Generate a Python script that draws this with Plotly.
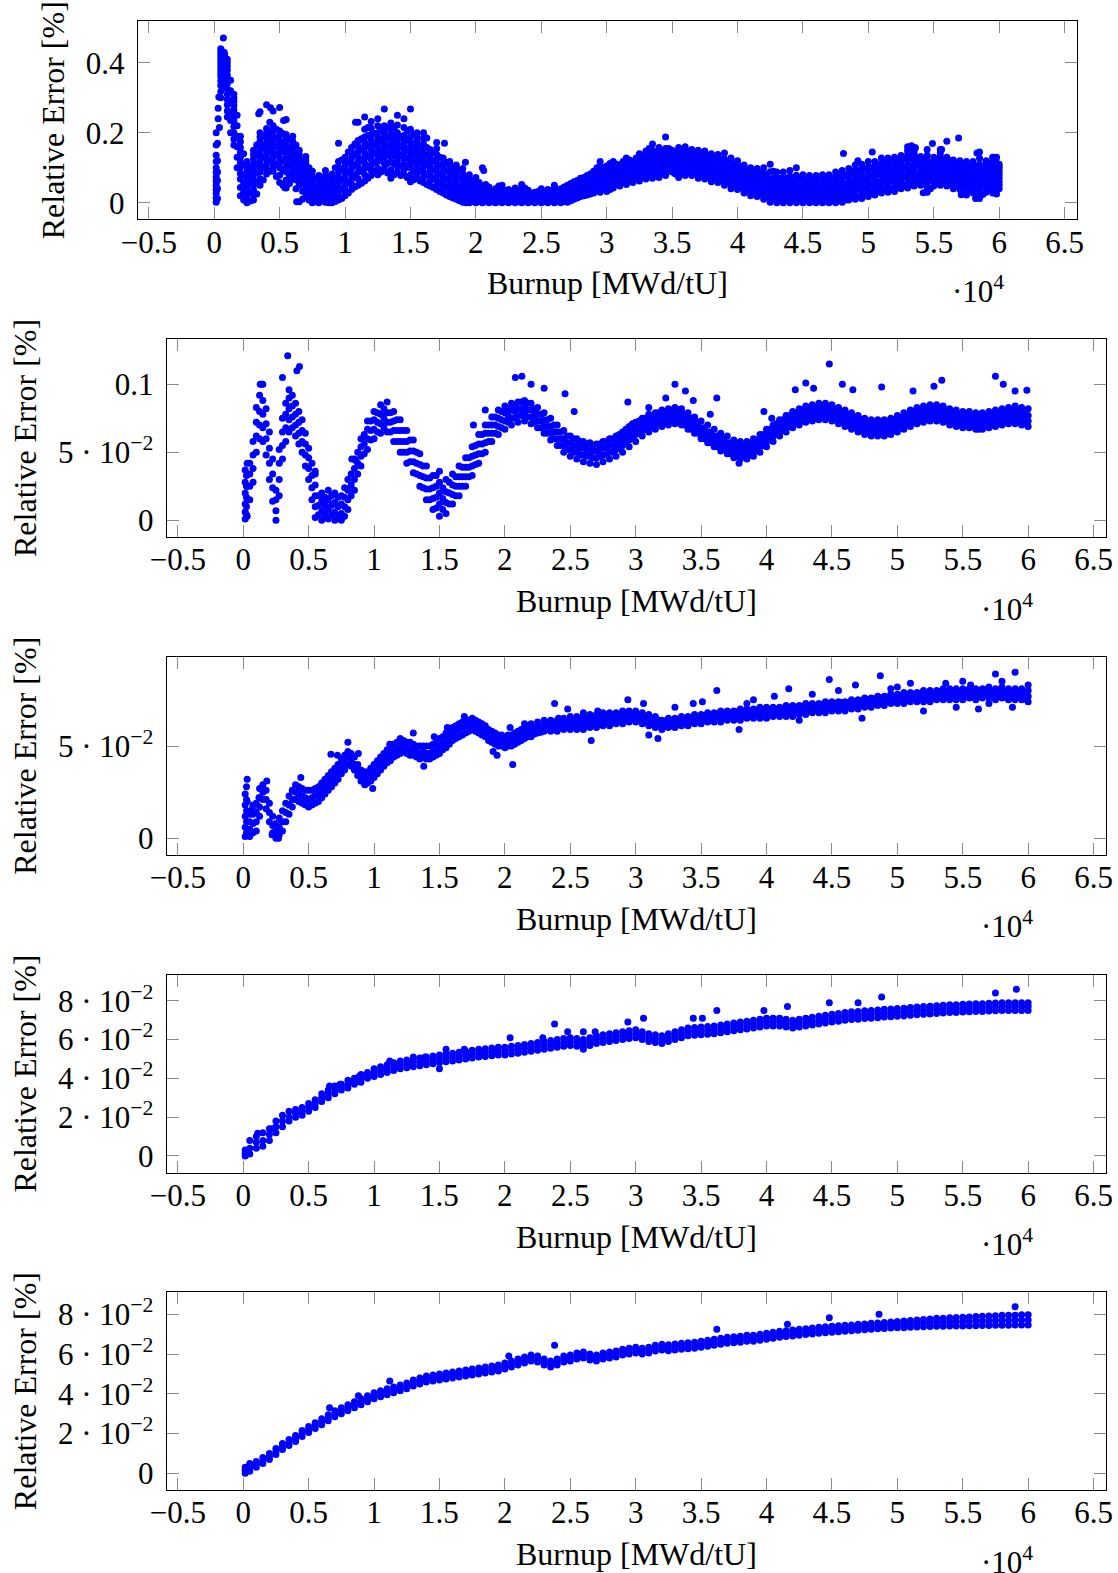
import plotly.graph_objects as go

# ---------------- data (burnup in MWd/tU, relative error in %) ----------------
burnup_steps = [150, 500, 1000, 1500, 2000, 2500, 3000, 3500, 4000, 4500,
                5000, 5500, 6000, 6500, 7000, 7500, 8000, 8500, 9000, 9500,
                10000, 10500, 11000, 11500, 12000, 12500, 13000, 13500, 14000, 14500,
                15000, 15500, 16000, 16500, 17000, 17500, 18000, 18500, 19000, 19500,
                20000, 20500, 21000, 21500, 22000, 22500, 23000, 23500, 24000, 24500,
                25000, 25500, 26000, 26500, 27000, 27500, 28000, 28500, 29000, 29500,
                30000, 30500, 31000, 31500, 32000, 32500, 33000, 33500, 34000, 34500,
                35000, 35500, 36000, 36500, 37000, 37500, 38000, 38500, 39000, 39500,
                40000, 40500, 41000, 41500, 42000, 42500, 43000, 43500, 44000, 44500,
                45000, 45500, 46000, 46500, 47000, 47500, 48000, 48500, 49000, 49500,
                50000, 50500, 51000, 51500, 52000, 52500, 53000, 53500, 54000, 54500,
                55000, 55500, 56000, 56500, 57000, 57500, 58000, 58500, 59000, 59500,
                60000]
burnup_half_steps = [250, 750, 1250, 1750, 2250, 2750, 3250, 3750, 4250, 4750,
                     5250, 5750, 6250, 6750, 7250, 7750, 8250, 8750, 9250, 9750,
                     10250, 10750, 11250, 11750, 12250, 12750, 13250, 13750, 14250, 14750,
                     15250, 15750, 16250, 16750, 17250, 17750, 18250, 18750, 19250, 19750,
                     20250, 20750, 21250, 21750, 22250, 22750, 23250, 23750, 24250, 24750,
                     25250, 25750, 26250, 26750, 27250, 27750, 28250, 28750, 29250, 29750,
                     30250, 30750, 31250, 31750, 32250, 32750, 33250, 33750, 34250, 34750,
                     35250, 35750, 36250, 36750, 37250, 37750, 38250, 38750, 39250, 39750,
                     40250, 40750, 41250, 41750, 42250, 42750, 43250, 43750, 44250, 44750,
                     45250, 45750, 46250, 46750, 47250, 47750, 48250, 48750, 49250, 49750,
                     50250, 50750, 51250, 51750, 52250, 52750, 53250, 53750, 54250, 54750,
                     55250, 55750, 56250, 56750, 57250, 57750, 58250, 58750, 59250, 59750]

case1_err = [
    [.002, .027, .05, .074, .1, .136, .2], [.3, .335, .36, .38, .40, .42, .44],
    [.245, .28, .31, .34, .365, .39, .41], [.165, .2, .235, .265, .29, .31],
    [.02, .068, .1, .13, .158, .19], [.0, .018, .042, .065, .09, .118],
    [.008, .038, .066, .095, .125, .15], [.05, .088, .118, .148, .175, .2, .26],
    [.082, .11, .138, .16, .185, .212, .28], [.09, .118, .146, .168, .192, .22, .262],
    [.058, .1, .128, .155, .178, .205, .272], [.042, .088, .116, .142, .168, .195, .238],
    [.068, .092, .118, .14, .163, .19], [.003, .05, .078, .1, .124, .15],
    [.018, .042, .066, .088, .11, .132], [.0, .02, .04, .062, .09],
    [.0, .012, .032, .052, .078], [.002, .022, .043, .064, .092],
    [.0, .014, .034, .055, .082], [.008, .032, .058, .086, .118, .17],
    [.02, .048, .075, .105, .13], [.038, .068, .098, .128, .158],
    [.05, .088, .118, .148, .178, .23], [.062, .098, .128, .158, .188, .245],
    [.078, .108, .138, .165, .195, .232], [.08, .118, .145, .172, .2, .24],
    [.098, .128, .152, .178, .202, .268], [.07, .118, .148, .172, .198, .228],
    [.088, .12, .148, .178, .2, .25], [.08, .11, .14, .168, .192, .24],
    [.06, .1, .13, .158, .188, .268], [.07, .098, .128, .152, .178, .2],
    [.058, .088, .118, .142, .168, .2], [.048, .078, .102, .128, .152],
    [.038, .062, .088, .112, .138, .172], [.028, .05, .072, .098, .128],
    [.018, .04, .062, .088, .118], [.01, .03, .052, .078, .108],
    [.002, .022, .042, .068, .098], [.0, .018, .038, .058, .08],
    [.0, .015, .032, .052, .072], [.0, .012, .028, .048, .1],
    [.0, .01, .026, .045], [.0, .008, .022, .04],
    [.0, .012, .028, .05], [.0, .009, .022, .038],
    [.0, .01, .024, .042], [.0, .012, .03, .052],
    [.0, .008, .02, .036], [.0, .01, .018, .03],
    [.0, .012, .024, .04], [.0, .01, .022, .038],
    [.0, .014, .03, .05], [.0, .01, .022, .04],
    [.002, .018, .032, .05], [.01, .026, .042, .06],
    [.018, .034, .05, .07], [.022, .04, .058, .078],
    [.028, .048, .068, .09], [.03, .05, .07, .092, .118],
    [.032, .052, .072, .092, .105], [.042, .062, .082, .1, .118],
    [.048, .068, .088, .108], [.052, .072, .092, .112, .128],
    [.058, .078, .098, .118], [.062, .082, .102, .122, .14],
    [.068, .088, .108, .128, .148], [.07, .092, .112, .132, .168],
    [.072, .098, .118, .138, .158], [.078, .1, .12, .142, .188],
    [.088, .108, .128, .15], [.072, .098, .118, .138, .158],
    [.078, .1, .12, .14, .16], [.078, .098, .118, .138, .152],
    [.07, .09, .11, .13, .15], [.068, .088, .108, .128, .148],
    [.06, .08, .1, .12, .14], [.058, .078, .098, .118, .138],
    [.05, .07, .09, .11, .142], [.04, .06, .08, .1, .128],
    [.038, .058, .078, .098, .12], [.028, .048, .068, .088, .108],
    [.02, .04, .06, .08, .1], [.018, .038, .058, .078, .098],
    [.01, .03, .05, .07, .1], [.002, .028, .048, .068, .11],
    [.0, .02, .04, .06, .088], [.0, .018, .038, .058, .088],
    [.0, .02, .04, .06, .092], [.0, .018, .038, .058, .1],
    [.0, .012, .03, .05, .08], [.0, .018, .038, .058, .078],
    [.0, .01, .03, .05, .078], [.0, .016, .036, .056, .08],
    [.0, .018, .038, .058, .08], [.0, .02, .04, .06, .088],
    [.002, .022, .042, .068, .092], [.008, .028, .048, .07, .098],
    [.01, .032, .052, .078, .108], [.012, .036, .058, .08, .11],
    [.018, .04, .062, .088, .118], [.022, .046, .068, .09, .118],
    [.028, .05, .078, .1, .128], [.03, .056, .078, .1, .128],
    [.032, .058, .08, .105, .13], [.04, .062, .085, .108, .135],
    [.042, .068, .09, .11, .138, .16], [.048, .07, .092, .118, .14, .158],
    [.05, .072, .098, .12, .132], [.03, .058, .08, .1, .12, .152],
    [.048, .07, .09, .11, .13], [.05, .072, .092, .112, .132, .152],
    [.048, .07, .09, .11, .13], [.04, .062, .082, .102, .122],
    [.038, .06, .08, .1, .12], [.022, .05, .07, .09, .118],
    [.028, .05, .072, .092, .118], [.012, .04, .062, .088, .11, .145],
    [.03, .052, .078, .1, .12], [.028, .05, .072, .092, .112, .13],
    [.04, .06, .08, .098, .11],
]
case1_err_fill = [
    [.014, .038, .062, .087, .118, .165], [.318, .348, .37, .39, .41, .43],
    [.262, .295, .325, .352, .378, .4], [.182, .218, .25, .278, .3],
    [.044, .084, .115, .144, .174], [.009, .03, .054, .078, .104],
    [.023, .052, .08, .11, .138], [.069, .103, .133, .162, .188],
    [.096, .124, .149, .172, .198], [.104, .132, .157, .18, .206],
    [.079, .114, .142, .166, .192], [.065, .102, .129, .155, .182],
    [.08, .105, .129, .152, .176], [.064, .089, .112, .137],
    [.03, .054, .077, .099, .121], [.01, .03, .051, .076],
    [.006, .022, .042, .065], [.012, .032, .053, .078],
    [.007, .024, .044, .068], [.02, .045, .072, .102],
    [.034, .062, .09, .118], [.053, .083, .113, .143],
    [.069, .103, .133, .163], [.08, .113, .143, .173, .21],
    [.093, .123, .152, .18, .213], [.099, .132, .158, .186, .22],
    [.113, .14, .165, .19, .22], [.094, .133, .16, .185, .213],
    [.104, .134, .163, .189, .222], [.095, .125, .154, .18, .215],
    [.08, .115, .144, .173, .21], [.084, .113, .14, .165, .189],
    [.073, .103, .13, .155, .184], [.063, .09, .115, .14],
    [.05, .075, .1, .125, .155], [.039, .061, .085, .113],
    [.029, .051, .075, .103], [.02, .041, .065, .093],
    [.012, .032, .055, .083], [.009, .028, .048, .069],
    [.007, .024, .042, .062], [.006, .02, .038],
    [.005, .018, .035], [.004, .015, .031],
    [.006, .02, .039], [.005, .015, .03],
    [.005, .017, .033], [.006, .021, .041],
    [.004, .014, .028], [.005, .014, .024],
    [.006, .018, .032], [.005, .016, .03],
    [.007, .022, .04], [.005, .016, .031],
    [.01, .025, .041], [.018, .034, .051],
    [.026, .042, .06], [.031, .049, .068],
    [.038, .058, .079], [.04, .06, .081, .105],
    [.042, .062, .082, .098], [.052, .072, .091, .109],
    [.058, .078, .098], [.062, .082, .102, .12],
    [.068, .088, .108], [.072, .092, .112, .131],
    [.078, .098, .118, .138], [.081, .102, .122, .15],
    [.085, .108, .128, .148], [.089, .11, .131, .155],
    [.098, .118, .139], [.085, .108, .128, .148],
    [.089, .11, .13, .15], [.088, .108, .128, .145],
    [.08, .1, .12, .14], [.078, .098, .118, .138],
    [.07, .09, .11, .13], [.068, .088, .108, .128],
    [.06, .08, .1, .125], [.05, .07, .09, .114],
    [.048, .068, .088, .109], [.038, .058, .078, .098],
    [.03, .05, .07, .09], [.028, .048, .068, .088],
    [.02, .04, .06, .085], [.015, .038, .058, .089],
    [.01, .03, .05, .074], [.009, .028, .048, .073],
    [.01, .03, .05, .076], [.009, .028, .048, .079],
    [.006, .021, .04, .065], [.009, .028, .048, .068],
    [.005, .02, .04, .064], [.008, .026, .046, .068],
    [.009, .028, .048, .069], [.01, .03, .05, .074],
    [.012, .032, .055, .08], [.018, .038, .059, .084],
    [.021, .042, .065, .093], [.024, .047, .069, .095],
    [.029, .051, .075, .103], [.034, .057, .079, .104],
    [.039, .064, .089, .114], [.043, .067, .089, .114],
    [.045, .069, .092, .118], [.051, .074, .096, .122],
    [.055, .079, .1, .124, .149], [.059, .081, .105, .129, .149],
    [.061, .085, .109, .126], [.044, .069, .09, .11, .136],
    [.059, .08, .1, .12], [.061, .082, .102, .122, .142],
    [.059, .08, .1, .12], [.051, .072, .092, .112],
    [.049, .07, .09, .11], [.036, .06, .08, .104],
    [.039, .061, .082, .105], [.026, .051, .075, .099, .127],
    [.041, .065, .089, .11], [.039, .061, .082, .102, .121],
    [.05, .07, .089, .104],
]
case1_err_half = [
    [.012, .04, .064, .088, .12, .17], [.33, .35, .37, .39, .41, .43],
    [.2, .235, .26, .29, .32, .35], [.1, .13, .16, .19, .22, .25],
    [.008, .03, .055, .08, .11, .14], [.005, .03, .055, .08, .105],
    [.025, .055, .085, .11, .138, .165], [.065, .1, .13, .16, .19],
    [.09, .12, .15, .175, .2, .23], [.075, .11, .138, .162, .185, .21],
    [.05, .092, .12, .148, .172, .198], [.055, .08, .105, .13, .155, .18],
    [.04, .065, .09, .112, .136, .165], [.01, .033, .056, .078, .1, .12],
    [.008, .03, .052, .076, .1], [.004, .025, .046, .068],
    [.006, .026, .045, .068], [.0, .012, .033, .053, .075],
    [.004, .022, .044, .07, .1], [.012, .04, .066, .095, .122],
    [.028, .058, .088, .116, .145], [.045, .078, .108, .138, .168],
    [.056, .092, .123, .153, .183], [.07, .104, .133, .162, .192, .215],
    [.09, .115, .142, .168, .198], [.088, .122, .148, .175, .21],
    [.085, .112, .138, .162, .188, .215], [.08, .11, .135, .162, .188, .215],
    [.078, .105, .135, .162, .19], [.072, .102, .128, .155, .182, .205],
    [.066, .09, .115, .142, .168, .195], [.062, .09, .115, .14, .165],
    [.052, .08, .108, .135, .158, .185], [.044, .07, .095, .12, .145],
    [.032, .056, .08, .105, .13], [.022, .045, .068, .092, .115],
    [.014, .035, .056, .08, .104], [.006, .026, .046, .07, .094],
    [.0, .014, .03, .05, .072], [.004, .022, .042, .064],
    [.004, .02, .038, .058], [.005, .018, .034, .052],
    [.003, .016, .032], [.003, .015, .03, .048],
    [.004, .018, .035], [.004, .016, .03],
    [.004, .018, .034], [.004, .016, .028, .042],
    [.004, .014, .027], [.005, .017, .032],
    [.004, .016, .03], [.005, .018, .035],
    [.004, .018, .038], [.004, .016, .03, .045],
    [.006, .022, .038, .055], [.014, .03, .046, .064],
    [.02, .036, .054, .072], [.025, .044, .062, .082],
    [.038, .058, .078, .1], [.04, .06, .08, .1],
    [.038, .058, .078, .096, .112], [.052, .072, .092, .11],
    [.058, .078, .098, .118], [.062, .082, .102, .122],
    [.068, .088, .108, .128], [.072, .092, .112, .132],
    [.078, .098, .118, .138, .155], [.082, .104, .124, .144],
    [.085, .106, .126, .146], [.095, .115, .135, .155],
    [.082, .103, .123, .143], [.088, .108, .128, .148],
    [.088, .108, .128, .145], [.083, .103, .123, .143],
    [.078, .098, .118, .138], [.073, .093, .113, .133],
    [.068, .088, .108, .128], [.064, .084, .104, .124],
    [.058, .078, .098, .118], [.048, .068, .088, .108],
    [.044, .064, .084, .104], [.035, .055, .075, .095],
    [.03, .05, .07, .09], [.025, .045, .065, .085],
    [.018, .038, .058, .08], [.01, .03, .05, .07, .09],
    [.008, .028, .048, .07], [.008, .028, .048, .07],
    [.008, .028, .048, .068], [.006, .025, .045, .068],
    [.006, .024, .044, .064], [.004, .024, .044, .066],
    [.005, .022, .042, .065], [.005, .026, .046, .068],
    [.006, .028, .048, .07], [.008, .03, .05, .072],
    [.008, .03, .052, .078], [.016, .038, .06, .085],
    [.018, .042, .066, .092], [.02, .046, .07, .096],
    [.028, .052, .076, .1], [.032, .058, .082, .106],
    [.038, .064, .088, .114], [.04, .066, .09, .116],
    [.045, .07, .094, .12], [.05, .075, .1, .124],
    [.055, .08, .104, .128], [.058, .082, .108, .128],
    [.06, .085, .11, .124], [.04, .068, .092, .115],
    [.058, .08, .1, .12], [.058, .08, .1, .122],
    [.056, .08, .1, .12], [.05, .072, .092, .112],
    [.046, .068, .09, .11], [.038, .06, .08, .104],
    [.038, .062, .082, .104], [.024, .05, .075, .098],
    [.04, .062, .088, .108], [.038, .062, .082, .102, .122],
]
case1_extra_burnup = [300, 300, 350, 400, 700, 650, 800, 3400, 4300, 5300, 5400, 6300,
                      10800, 17600, 19200, 20600, 48100, 50300, 49200, 53300, 53600,
                      54900, 55600, 56000, 56900, 58300, 59800, 59800, 58200, 57100, 54200]
case1_extra_err = [.24, .27, .302, .215, .47, .43, .425, .254, .271, .235, .043, .003,
                   .23, .17, .116, .092, .141, .145, .12, .163, .157,
                   .169, .152, .176, .185, .142, .13, .025, .012, .023, .029]

case2_err = [
    [.001, .006, .012, .02, .028, .037], [.015, .025, .034, .042],
    [.05, .062, .072, .083], [.058, .068, .078, .088, .1],
    [.03, .042, .053, .065], [.0, .007, .015, .022],
    [.045, .055, .065, .075], [.065, .074, .082, .09, .096],
    [.062, .07, .078, .086], [.05, .058, .066, .074],
    [.03, .038, .046, .053], [.002, .01, .018, .026, .036],
    [.0, .007, .014, .02], [.001, .008, .015, .022],
    [.0, .006, .013, .02], [.0, .005, .012, .018],
    [.008, .015, .022, .03], [.022, .03, .038, .045],
    [.04, .047, .054, .06], [.052, .06, .067, .073],
    [.06, .067, .074, .08], [.064, .071, .078, .085],
    [.065, .072, .079, .087], [.058, .066, .073, .08],
    [.05, .058, .066, .074], [.042, .05, .058, .066],
    [.035, .043, .051, .059], [.025, .033, .041, .049],
    [.015, .023, .031, .04], [.008, .016, .024, .033],
    [.003, .012, .02, .028, .036], [.005, .013, .021, .03],
    [.012, .019, .026, .034], [.018, .025, .032, .04],
    [.025, .032, .039, .046], [.033, .04, .047, .054],
    [.042, .049, .056, .063], [.05, .057, .064, .07],
    [.058, .064, .07, .076], [.063, .069, .075, .081],
    [.067, .073, .079, .084], [.07, .075, .081, .086],
    [.072, .077, .082, .087], [.073, .078, .083, .088],
    [.071, .076, .081, .086], [.068, .073, .078, .083],
    [.064, .069, .074, .079], [.059, .064, .069, .075],
    [.055, .06, .065, .07], [.05, .055, .06, .066],
    [.047, .052, .057, .062], [.045, .05, .055, .06],
    [.043, .048, .053, .058], [.042, .047, .052, .057],
    [.041, .046, .051, .056], [.043, .048, .053, .058],
    [.045, .05, .055, .06], [.047, .052, .057, .062],
    [.05, .055, .06, .065], [.054, .059, .064, .069],
    [.058, .063, .068, .072], [.062, .066, .071, .075],
    [.065, .069, .073, .078], [.067, .071, .075, .079],
    [.069, .073, .077, .081], [.07, .074, .078, .082],
    [.071, .075, .079, .083], [.07, .074, .078, .082],
    [.067, .071, .075, .079], [.064, .068, .072, .076],
    [.06, .064, .068, .073], [.057, .061, .065, .07],
    [.054, .058, .062, .067], [.051, .055, .059, .064],
    [.049, .053, .057, .062], [.046, .05, .054, .059],
    [.045, .049, .053, .058], [.045, .049, .053, .058],
    [.047, .051, .055, .06], [.05, .054, .058, .063],
    [.054, .058, .062, .067], [.058, .062, .066, .07],
    [.062, .066, .07, .074], [.065, .069, .073, .077],
    [.068, .072, .076, .08], [.07, .074, .078, .082],
    [.072, .076, .08, .084], [.073, .077, .081, .085],
    [.074, .078, .082, .086], [.074, .078, .082, .086],
    [.073, .077, .081, .085], [.071, .075, .079, .083],
    [.069, .073, .077, .081], [.067, .071, .075, .079],
    [.065, .069, .073, .077], [.063, .067, .071, .075],
    [.062, .066, .07, .074], [.062, .066, .07, .074],
    [.062, .066, .07, .074], [.063, .067, .071, .075],
    [.065, .069, .073, .077], [.067, .071, .075, .079],
    [.069, .073, .077, .081], [.071, .075, .079, .083],
    [.072, .076, .08, .084], [.073, .077, .081, .085],
    [.073, .077, .081, .085], [.072, .076, .08, .084],
    [.07, .074, .078, .082], [.069, .073, .077, .081],
    [.068, .072, .076, .08], [.068, .072, .076, .08],
    [.067, .071, .075, .079], [.067, .071, .075, .079],
    [.068, .072, .076, .08], [.069, .073, .077, .081],
    [.07, .074, .078, .082], [.071, .075, .079, .083],
    [.071, .075, .079, .084], [.07, .074, .078, .083],
    [.069, .073, .077, .082],
]
case2_err_half = [
    [.004, .01, .017, .025, .033], [.028, .038, .048, .058],
    [.06, .07, .08, .092], [.048, .06, .071, .082],
    [.014, .024, .034, .045], [.018, .03, .042, .052],
    [.058, .068, .078, .086], [.068, .076, .084, .092],
    [.056, .064, .072, .08], [.04, .048, .056, .064],
    [.015, .024, .033, .042], [.004, .011, .018],
    [.004, .011, .017], [.004, .011, .018],
    [.003, .01, .017], [.003, .01, .017, .024],
    [.018, .026, .034], [.034, .042, .05],
    [.049, .056, .063], [.059, .066, .073],
    [.065, .072, .079], [.068, .075, .082],
    [.065, .072, .079], [.058, .066, .074],
    [.05, .058, .066], [.043, .051, .059],
    [.034, .042, .05], [.024, .032, .04],
    [.015, .023, .031], [.009, .017, .025, .033],
    [.008, .016, .024], [.012, .02, .028],
    [.018, .025, .032], [.025, .032, .039],
    [.032, .039, .046], [.041, .048, .055],
    [.049, .056, .063], [.058, .064, .07],
    [.064, .07, .076], [.068, .074, .08],
    [.072, .077, .082], [.075, .08, .085],
    [.077, .082, .087], [.076, .081, .086],
    [.072, .077, .082], [.068, .073, .078],
    [.064, .069, .074], [.06, .065, .07],
    [.055, .06, .065], [.052, .057, .062],
    [.05, .055, .06], [.048, .053, .058],
    [.047, .052, .056], [.046, .051, .055],
    [.047, .052, .056], [.048, .053, .058],
    [.05, .055, .06], [.053, .058, .063],
    [.057, .062, .067], [.061, .066, .071],
    [.064, .069, .073], [.067, .071, .075],
    [.069, .073, .077], [.071, .075, .079],
    [.072, .076, .08], [.073, .077, .081],
    [.073, .077, .081], [.07, .074, .078],
    [.067, .071, .075], [.064, .068, .072],
    [.06, .064, .068], [.057, .061, .065],
    [.054, .058, .062], [.052, .056, .06],
    [.049, .053, .057], [.048, .052, .056],
    [.047, .051, .055], [.048, .052, .056],
    [.051, .055, .059], [.055, .059, .063],
    [.059, .063, .067], [.063, .067, .071],
    [.066, .07, .074], [.069, .073, .077],
    [.071, .075, .079], [.073, .077, .081],
    [.074, .078, .082], [.075, .079, .083],
    [.076, .08, .084], [.076, .08, .084],
    [.074, .078, .082], [.072, .076, .08],
    [.07, .074, .078], [.068, .072, .076],
    [.066, .07, .074], [.065, .069, .073],
    [.064, .068, .072], [.064, .068, .072],
    [.064, .068, .072], [.066, .07, .074],
    [.068, .072, .076], [.07, .074, .078],
    [.072, .076, .08], [.073, .077, .081],
    [.074, .078, .082], [.075, .079, .083],
    [.074, .078, .082], [.073, .077, .081],
    [.071, .075, .079], [.07, .074, .078],
    [.07, .074, .078], [.069, .073, .077],
    [.069, .073, .077], [.069, .073, .077],
    [.07, .074, .078], [.071, .075, .079],
    [.072, .076, .08], [.073, .077, .081],
    [.072, .076, .081], [.071, .075, .08],
]
case2_extra_burnup = [300, 300, 300, 300, 1300, 1400, 3400, 3000, 4100, 4300, 5500, 8300,
                      8600, 17600, 18500, 20800, 21300, 22000, 23000, 24600, 25300,
                      29400, 31000, 33000, 33800, 32300, 34400, 35700, 36200, 37900,
                      39800, 40400, 42200, 43000, 43600, 44800, 45800, 46600, 48800,
                      51200, 52800, 53400, 56200, 57500, 58100, 59000, 59900]
case2_extra_err = [.003, .015, .025, .042, .1, .1, .121, .105, .11, .113, .034, .045,
                   .044, .07, .081, .105, .106, .1, .097, .093, .08,
                   .087, .083, .1, .095, .09, .088, .078, .09, .042,
                   .08, .075, .096, .101, .097, .115, .1, .096, .098,
                   .095, .0985, .103, .067, .106, .1, .095, .0956]

case3_err = [
    [.001, .006, .012, .018, .024], [.001, .005, .009, .013],
    [.004, .009, .014, .019], [.021, .025, .029],
    [.009, .014, .019], [.0, .004, .008],
    [.004, .009, .015], [.013, .018, .023],
    [.021, .025, .029], [.019, .023, .027],
    [.017, .021, .026], [.019, .023, .027],
    [.022, .026, .03], [.026, .03, .034],
    [.03, .034, .038], [.035, .039, .043],
    [.04, .044, .047], [.037, .04, .044],
    [.031, .034, .037], [.03, .033, .036],
    [.033, .036, .04], [.037, .04, .044],
    [.041, .044, .048], [.044, .047, .051],
    [.046, .049, .053], [.046, .049, .052],
    [.045, .048, .051], [.043, .046, .05],
    [.043, .046, .05], [.044, .047, .051],
    [.046, .05, .054], [.049, .053, .057],
    [.053, .056, .06], [.055, .059, .062],
    [.057, .061, .064], [.059, .062, .065],
    [.057, .06, .063], [.055, .058, .061],
    [.052, .055, .058], [.05, .053, .056],
    [.049, .052, .055], [.05, .053, .056],
    [.052, .055, .058], [.054, .057, .06],
    [.055, .058, .062], [.057, .06, .063],
    [.058, .061, .064], [.058, .061, .064],
    [.058, .061, .064], [.059, .062, .065],
    [.059, .062, .066], [.059, .062, .066],
    [.059, .063, .066], [.06, .063, .067],
    [.06, .064, .067], [.061, .064, .068],
    [.061, .065, .068], [.062, .065, .068],
    [.062, .066, .069], [.063, .066, .069],
    [.063, .066, .069], [.062, .065, .068],
    [.061, .064, .067], [.06, .063, .066],
    [.059, .062, .064], [.06, .062, .065],
    [.06, .063, .065], [.061, .063, .066],
    [.061, .064, .066], [.062, .064, .067],
    [.062, .065, .067], [.063, .065, .068],
    [.063, .066, .068], [.063, .066, .069],
    [.064, .066, .069], [.064, .067, .069],
    [.064, .067, .07], [.065, .067, .07],
    [.065, .068, .07], [.065, .068, .071],
    [.065, .068, .071], [.066, .068, .071],
    [.066, .069, .071], [.066, .069, .072],
    [.066, .069, .072], [.067, .07, .072],
    [.067, .07, .073], [.068, .07, .073],
    [.068, .071, .073], [.068, .071, .074],
    [.069, .071, .074], [.069, .072, .074],
    [.069, .072, .074], [.07, .072, .075],
    [.07, .073, .075], [.071, .073, .076],
    [.071, .074, .076], [.072, .074, .077],
    [.072, .075, .077], [.073, .075, .078],
    [.073, .076, .078], [.073, .076, .079],
    [.074, .076, .079], [.074, .077, .079],
    [.074, .077, .08], [.074, .077, .08],
    [.075, .077, .08], [.075, .078, .081],
    [.075, .078, .081], [.075, .078, .081],
    [.075, .078, .081], [.076, .078, .081],
    [.075, .078, .081], [.076, .078, .081],
    [.076, .079, .082], [.075, .078, .081],
    [.076, .079, .082], [.075, .078, .081],
    [.075, .078, .081], [.075, .078, .081],
    [.074, .077, .08],
]
case3_err_half = [
    [.003, .009, .015, .021, .028], [.003, .008, .013, .018],
    [.012, .017, .022, .027], [.016, .021, .026],
    [.003, .007, .012], [.002, .006, .011],
    [.009, .014, .019], [.017, .021, .026],
    [.02, .024, .028], [.018, .022, .026],
    [.018, .022, .026], [.02, .024, .028],
    [.024, .028, .032], [.028, .032, .036],
    [.032, .036, .04], [.037, .041, .045],
    [.039, .042, .046], [.034, .037, .04],
    [.03, .033, .036], [.031, .035, .038],
    [.035, .038, .042], [.039, .042, .046],
    [.042, .045, .049], [.045, .048, .052],
    [.047, .05, .053], [.045, .048, .052],
    [.044, .047, .05], [.044, .047, .05],
    [.043, .046, .05], [.045, .048, .052],
    [.048, .051, .055], [.051, .055, .058],
    [.054, .058, .061], [.056, .06, .063],
    [.058, .061, .064], [.058, .061, .064],
    [.056, .059, .062], [.053, .056, .059],
    [.051, .054, .057], [.05, .053, .056],
    [.05, .053, .056], [.051, .054, .057],
    [.053, .056, .059], [.055, .058, .061],
    [.0565, .06], [.0575, .0605],
    [.0595, .0625], [.0595, .0625],
    [.06, .063], [.0605, .0635],
    [.0605, .064], [.0605, .0645],
    [.061, .065], [.0615, .0655],
    [.0625, .066], [.063, .0665],
    [.0635, .0665], [.064, .067],
    [.0645, .0675], [.0645, .0675],
    [.064, .067], [.063, .066],
    [.062, .065], [.061, .064],
    [.0605, .0635], [.061, .064],
    [.0615, .0645], [.062, .065],
    [.063, .0655], [.0635, .066],
    [.064, .0665], [.0645, .067],
    [.0645, .0675], [.065, .0675],
    [.0655, .068], [.0655, .0685],
    [.066, .0685], [.0665, .069],
    [.0665, .0695], [.0665, .0695],
    [.067, .0695], [.0675, .07],
    [.0675, .0705], [.0675, .0705],
    [.0685, .071], [.0685, .0715],
    [.069, .0715], [.0695, .072],
    [.07, .0725], [.0705, .073],
    [.0705, .073], [.0705, .0735],
    [.071, .0735], [.0715, .074],
    [.072, .0745], [.0725, .075],
    [.073, .0755], [.0735, .076],
    [.074, .0765], [.0745, .077],
    [.0745, .0775], [.075, .0775],
    [.0755, .078], [.0755, .0785],
    [.0755, .0785], [.076, .0785],
    [.0765, .0795], [.0765, .0795],
    [.0765, .0795], [.0765, .0795],
    [.077, .0795], [.0765, .0795],
    [.077, .0795], [.0775, .0805],
    [.0765, .0795], [.0775, .0805],
    [.0765, .0795], [.0765, .0795],
    [.0765, .0795], [.0755, .0785],
]
case3_extra_burnup = [300, 300, 700, 1200, 1800, 2200, 2700, 4400, 6700, 8000, 8800, 7200,
                      9900, 9300, 11200, 12000, 13000, 13800, 14600, 15600, 16900, 17700,
                      19400, 20600, 20400, 19100, 23800, 24800, 24100, 26600, 27100, 29400,
                      30600, 31000, 31700, 34400, 35100, 36200, 37900, 40600, 41700, 42500,
                      44800, 46800, 47300, 48700, 51000, 52000, 53700, 55000, 56200, 57500,
                      59000, 58800, 60000, 58000, 55600, 50000, 45500, 39000, 33000, 38500,
                      21500, 26000, 43500, 49500, 54500, 57000]
case3_extra_err = [.032, .02, .016, .022, .031, .002, .0, .033, .0455, .052, .046, .045,
                   .027, .029, .051, .054, .057, .039, .055, .06, .066, .064,
                   .045, .04, .06, .047, .073, .07, .065, .053, .069, .075,
                   .073, .056, .054, .073, .074, .08, .059, .077, .081, .064,
                   .086, .083, .065, .088, .084, .069, .084, .085, .07, .089,
                   .09, .071, .083, .085, .083, .082, .08, .075, .071, .073,
                   .062, .068, .078, .081, .071, .073]

case4_low = [.0, .001, .004, .005, .008, .012, .015, .018, .02, .021,
             .023, .025, .028, .03, .032, .034, .035, .037, .038, .04,
             .041, .042, .043, .044, .045, .0455, .046, .0465, .047, .0475,
             .048, .0485, .049, .0495, .05, .0505, .051, .0513, .0516, .052,
             .052, .0525, .053, .0535, .054, .0545, .055, .0555, .056, .0565,
             .057, .0565, .056, .057, .058, .0585, .059, .0595, .06, .0605,
             .061, .06, .059, .0585, .058, .059, .06, .061, .062, .0622,
             .0625, .0628, .063, .0635, .064, .0645, .065, .0655, .066, .0665,
             .067, .067, .067, .0665, .066, .0665, .067, .0675, .068, .0685,
             .069, .0695, .07, .0703, .0705, .0708, .071, .0713, .0716, .0718,
             .072, .0722, .0725, .0728, .073, .0732, .0735, .0737, .074, .074,
             .0742, .0743, .0745, .0745, .0747, .0748, .075, .075, .075, .075,
             .075]
case4_mid = [.001, .004, .007, .008, .011, .015, .018, .02, .022, .023,
             .025, .027, .03, .032, .034, .0355, .037, .0385, .04, .0415,
             .043, .044, .045, .046, .047, .0475, .048, .0485, .049, .0495,
             .05, .0505, .051, .0515, .052, .0525, .053, .0533, .0536, .054,
             .054, .0545, .055, .0555, .056, .0565, .057, .0575, .058, .0585,
             .059, .0585, .058, .059, .06, .0605, .061, .0615, .062, .0625,
             .063, .062, .061, .0605, .06, .061, .062, .063, .064, .0642,
             .0645, .0648, .065, .0655, .066, .0665, .067, .0675, .068, .0685,
             .069, .069, .069, .0685, .068, .0685, .069, .0695, .07, .0705,
             .071, .0715, .072, .0723, .0725, .0728, .073, .0733, .0736, .0738,
             .074, .0742, .0745, .0748, .075, .0752, .0755, .0757, .076, .076,
             .0762, .0763, .0765, .0765, .0767, .0768, .077, .077, .077, .077,
             .077]
case4_high = [.003, .008, .01, .012, .014, .018, .021, .023, .024, .025,
              .027, .029, .032, .034, .036, .037, .039, .04, .042, .043,
              .045, .046, .047, .048, .049, .0495, .05, .0505, .051, .0515,
              .052, .0525, .053, .0535, .054, .0545, .055, .0553, .0556, .056,
              .056, .0565, .057, .0575, .058, .0585, .059, .0595, .06, .0605,
              .061, .0605, .06, .061, .062, .0625, .063, .0635, .064, .0645,
              .065, .064, .063, .0625, .062, .063, .064, .065, .066, .0662,
              .0665, .0668, .067, .0675, .068, .0685, .069, .0695, .07, .0705,
              .071, .071, .071, .0705, .07, .0705, .071, .0715, .072, .0725,
              .073, .0735, .074, .0743, .0745, .0748, .075, .0753, .0756, .0758,
              .076, .0762, .0765, .0768, .077, .0772, .0775, .0777, .078, .078,
              .0782, .0783, .0785, .0785, .0787, .0788, .079, .079, .079, .079,
              .079]
case4_extra_burnup = [1100, 2200, 6600, 7400, 8850, 11200, 13000, 13900, 15000, 15500, 16900,
                      20400, 22900, 23800, 24800, 26000, 26000, 26900, 29400, 30600,
                      34400, 35100, 36200, 39800, 41600, 44800, 47000, 48800, 57500, 59100]
case4_extra_err = [.0117, .014, .036, .037, .041, .049, .051, .051, .045, .055, .055,
                   .061, .061, .068, .064, .055, .064, .064, .069, .071,
                   .071, .071, .075, .075, .077, .079, .079, .082, .084, .086]

case5_low = [.0, .001, .003, .005, .007, .0095, .012, .014, .016, .0185,
             .0205, .0225, .0245, .0265, .0285, .03, .0315, .033, .0345, .036,
             .0375, .0385, .0395, .0405, .0415, .0425, .044, .045, .046, .0465,
             .047, .0475, .048, .0485, .049, .0495, .05, .0505, .051, .0515,
             .0525, .0535, .0545, .0555, .0565, .056, .0545, .0535, .0545, .056,
             .0565, .0575, .058, .057, .0565, .0575, .058, .0585, .0595, .06,
             .0605, .06, .0605, .0615, .062, .0617, .0621, .0625, .0627, .063,
             .0635, .064, .0645, .065, .0655, .0657, .066, .0665, .0665, .067,
             .0675, .068, .0685, .0688, .0691, .0695, .0698, .0701, .0705, .0707,
             .071, .0713, .0715, .0717, .072, .0722, .0725, .0727, .0729, .0731,
             .0732, .0733, .0735, .0736, .0738, .0739, .074, .074, .0741, .0742,
             .0742, .0743, .0743, .0744, .0744, .0745, .0745, .0745, .0746, .0746,
             .0746]
case5_mid = [.0015, .003, .0045, .0065, .0085, .011, .0135, .0155, .0175, .02,
             .022, .024, .026, .028, .03, .0315, .033, .0345, .036, .0375,
             .039, .04, .041, .042, .043, .044, .0455, .0465, .0475, .048,
             .0485, .049, .0495, .05, .0505, .051, .0515, .052, .0525, .053,
             .054, .055, .056, .057, .058, .0575, .056, .055, .056, .0575,
             .058, .059, .0595, .0585, .058, .059, .0595, .06, .061, .0615,
             .062, .0615, .062, .063, .0635, .0632, .0636, .064, .0642, .0645,
             .065, .0655, .066, .0665, .067, .0672, .0675, .068, .068, .0685,
             .069, .0695, .07, .0703, .0706, .071, .0713, .0716, .072, .0722,
             .0725, .0728, .073, .0732, .0735, .0737, .074, .0742, .0744, .0746,
             .0748, .075, .0752, .0754, .0756, .0758, .076, .076, .0762, .0763,
             .0764, .0765, .0766, .0767, .0768, .0769, .077, .077, .0771, .0772,
             .0772]
case5_high = [.003, .005, .006, .008, .01, .0125, .015, .017, .019, .0215,
              .0235, .0255, .0275, .0295, .0315, .033, .0345, .036, .0375, .039,
              .0405, .0415, .0425, .0435, .0445, .0455, .047, .048, .049, .0495,
              .05, .0505, .051, .0515, .052, .0525, .053, .0535, .054, .0545,
              .0555, .0565, .0575, .0585, .0595, .059, .0575, .0565, .0575, .059,
              .0595, .0605, .061, .06, .0595, .0605, .061, .0615, .0625, .063,
              .0635, .063, .0635, .0645, .065, .0647, .0651, .0655, .0657, .066,
              .0665, .067, .0675, .068, .0685, .0687, .069, .0695, .0695, .07,
              .0705, .071, .0715, .0718, .0721, .0725, .0728, .0731, .0735, .0737,
              .074, .0743, .0745, .0747, .075, .0752, .0755, .0757, .0759, .0761,
              .0764, .0767, .0769, .0772, .0774, .0777, .078, .078, .0783, .0784,
              .0786, .0787, .0789, .079, .0792, .0793, .0795, .0795, .0796, .0798,
              .0798]
case5_extra_burnup = [6600, 8800, 11200, 20300, 23800, 36200, 41600, 44800, 48600, 59000]
case5_extra_err = [.033, .039, .0465, .059, .0644, .0725, .075, .0783, .08, .0838]

x_tick_vals = [-5000, 0, 5000, 10000, 15000, 20000, 25000, 30000, 35000,
               40000, 45000, 50000, 55000, 60000, 65000]
x_tick_text = ["−0.5", "0", "0.5", "1", "1.5", "2", "2.5", "3", "3.5",
               "4", "4.5", "5", "5.5", "6", "6.5"]
y_ticks_case1 = ([0, 0.2, 0.4], ["0", "0.2", "0.4"])
y_ticks_case2 = ([0, 0.05, 0.1], ["0", "5 · 10<sup>−2</sup>", "0.1"])
y_ticks_case3 = ([0, 0.05], ["0", "5 · 10<sup>−2</sup>"])
y_ticks_case45 = ([0, 0.02, 0.04, 0.06, 0.08],
                  ["0", "2 · 10<sup>−2</sup>", "4 · 10<sup>−2</sup>",
                   "6 · 10<sup>−2</sup>", "8 · 10<sup>−2</sup>"])


def columns_to_points(col_sets, extra_x, extra_y):
    xs, ys = [], []
    for steps, cols in col_sets:
        for b, vals in zip(steps, cols):
            for v in vals:
                xs.append(b)
                ys.append(v)
    return xs + list(extra_x), ys + list(extra_y)


def bands_to_points(rows, extra_x, extra_y):
    xs, ys = [], []
    for row in rows:
        xs += list(burnup_steps)
        ys += list(row)
    return xs + list(extra_x), ys + list(extra_y)


series = [
    columns_to_points([(burnup_steps, case1_err), (burnup_steps, case1_err_fill),
                       (burnup_half_steps, case1_err_half)],
                      case1_extra_burnup, case1_extra_err),
    columns_to_points([(burnup_steps, case2_err), (burnup_half_steps, case2_err_half)],
                      case2_extra_burnup, case2_extra_err),
    columns_to_points([(burnup_steps, case3_err), (burnup_half_steps, case3_err_half)],
                      case3_extra_burnup, case3_extra_err),
    bands_to_points([case4_low, case4_mid, case4_high], case4_extra_burnup, case4_extra_err),
    bands_to_points([case5_low, case5_mid, case5_high], case5_extra_burnup, case5_extra_err),
]

# ---------------- layout ----------------
W, H = 1118, 1573
FONT = "Liberation Serif"
# pixel boxes of the five axes: (left, right, top, bottom)
boxes = [
    (137.7, 1077.0, 21.3, 219.3),
    (166.7, 1106.0, 339.0, 537.0),
    (166.7, 1106.0, 656.8, 854.8),
    (166.7, 1106.0, 974.6, 1172.6),
    (166.7, 1106.0, 1292.3, 1490.0),
]
y_ranges = [[-0.047, 0.518], [-0.0123, 0.1333], [-0.0089, 0.0983],
            [-0.0086, 0.0935], [-0.0084, 0.0911]]
y_ticks = [y_ticks_case1, y_ticks_case2, y_ticks_case3, y_ticks_case45, y_ticks_case45]
ytitle_x = [53, 25, 25, 25, 25]

fig = go.Figure()
annotations = []
for k, ((xs, ys), (l, r, t, b)) in enumerate(zip(series, boxes)):
    n = "" if k == 0 else str(k + 1)
    fig.add_trace(go.Scatter(
        x=xs, y=ys, mode="markers", xaxis="x" + n, yaxis="y" + n,
        marker=dict(color="#0000ff", size=7, line=dict(width=0)),
        showlegend=False, hoverinfo="skip"))
    axis_common = dict(
        showline=True, linecolor="#000000", linewidth=1.2, mirror="ticks",
        ticks="inside", ticklen=12, tickcolor="#8a8a8a", tickwidth=1.2,
        showgrid=False, zeroline=False, automargin=False,
        tickfont=dict(family=FONT, size=31, color="#000000"),
    )
    fig.layout["xaxis" + n] = dict(
        axis_common, domain=[l / W, r / W], anchor="y" + n,
        range=[-5850, 65950], tickmode="array", ticklabelstandoff=-5,
        tickvals=x_tick_vals, ticktext=x_tick_text)
    fig.layout["yaxis" + n] = dict(
        axis_common, domain=[1 - b / H, 1 - t / H], anchor="x" + n,
        range=y_ranges[k], tickmode="array", ticklabelstandoff=6,
        tickvals=y_ticks[k][0], ticktext=y_ticks[k][1])
    annotations.append(dict(
        text="Burnup [MWd/tU]", x=(l + r) / 2 / W, y=1 - (b + 64) / H,
        xref="paper", yref="paper", showarrow=False, xanchor="center", yanchor="middle",
        font=dict(family=FONT, size=32, color="#000000")))
    annotations.append(dict(
        text="·10<sup>4</sup>", x=(r - 71) / W, y=1 - (b + 70) / H,
        xref="paper", yref="paper", showarrow=False, xanchor="right", yanchor="middle",
        font=dict(family=FONT, size=31, color="#000000")))
    annotations.append(dict(
        text="Relative Error [%]", x=ytitle_x[k] / W, y=1 - (t + b) / 2 / H,
        xref="paper", yref="paper", showarrow=False, xanchor="center", yanchor="middle",
        textangle=-90, font=dict(family=FONT, size=32, color="#000000")))

fig.update_layout(
    template="none",
    width=W, height=H, margin=dict(l=0, r=0, t=0, b=0, pad=0),
    paper_bgcolor="#ffffff", plot_bgcolor="#ffffff",
    annotations=annotations,
)
fig.write_html("out.html")
